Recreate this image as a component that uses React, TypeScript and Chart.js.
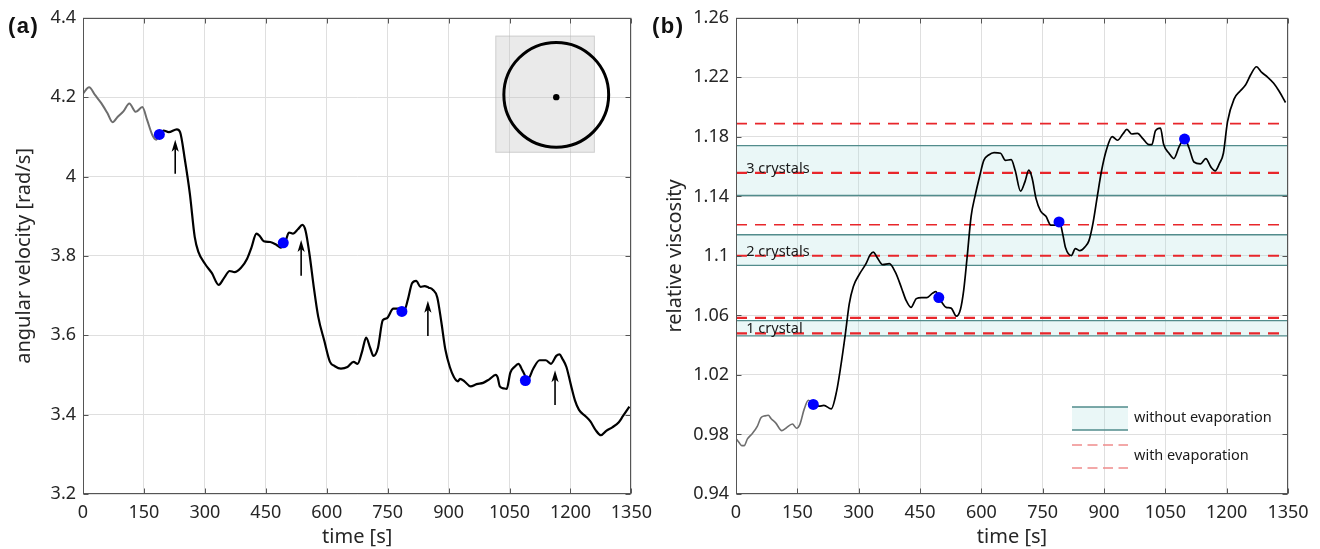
import React, { useEffect, useRef } from "react";
import { Chart, registerables } from "chart.js";

Chart.register(...registerables);

const FONT = "'Noto Sans', 'DejaVu Sans', sans-serif";
const INK = "#262626";
const GRID = "#dfdfdf";
const AXIS = "#555555";

// ---------- shared x axis ----------
const TIME_TICKS = [0, 150, 300, 450, 600, 750, 900, 1050, 1200, 1350];
const TIME_LABELS = ["0", "150", "300", "450", "600", "750", "900", "1050", "1200", "1350"];

// ---------- panel (a) ----------
const A_Y_TICKS = [3.2, 3.4, 3.6, 3.8, 4.0, 4.2, 4.4];
const A_Y_LABELS = ["3.2", "3.4", "3.6", "3.8", "4", "4.2", "4.4"];

const A_EARLY_T = [0, 15, 30, 45, 60, 73, 85, 100, 114, 130, 146, 158, 171, 180, 188];
const A_EARLY_V = [4.209, 4.225, 4.205, 4.185, 4.16, 4.137, 4.15, 4.165, 4.184, 4.163, 4.175, 4.142, 4.104, 4.093, 4.107];

const A_T = [188, 198, 211, 231, 239, 251, 263, 275, 284, 301, 317, 334, 347, 361, 373, 389, 404, 414, 427, 435, 445, 461, 476, 486, 497, 507, 517, 529, 540, 548, 558, 568, 579, 594, 608, 620, 635, 651, 666, 676, 687, 697, 707, 715, 726, 738, 748, 764, 779, 790, 800, 810, 820, 831, 841, 851, 861, 872, 882, 892, 903, 913, 923, 928, 939, 954, 969, 985, 1000, 1016, 1021, 1026, 1036, 1043, 1052, 1062, 1072, 1082, 1095, 1108, 1124, 1139, 1152, 1165, 1173, 1180, 1190, 1201, 1211, 1221, 1237, 1249, 1262, 1275, 1288, 1303, 1319, 1329, 1345];
const A_V = [4.107, 4.116, 4.112, 4.119, 4.112, 4.041, 3.957, 3.848, 3.81, 3.779, 3.757, 3.727, 3.744, 3.762, 3.759, 3.77, 3.793, 3.819, 3.856, 3.85, 3.837, 3.835, 3.828, 3.821, 3.832, 3.859, 3.856, 3.867, 3.878, 3.863, 3.801, 3.722, 3.647, 3.586, 3.533, 3.522, 3.516, 3.52, 3.533, 3.528, 3.559, 3.594, 3.568, 3.548, 3.568, 3.638, 3.643, 3.667, 3.667, 3.661, 3.691, 3.731, 3.737, 3.722, 3.724, 3.72, 3.715, 3.696, 3.634, 3.564, 3.52, 3.495, 3.484, 3.49, 3.484, 3.471, 3.477, 3.48, 3.489, 3.5, 3.493, 3.471, 3.466, 3.465, 3.506, 3.52, 3.528, 3.511, 3.489, 3.515, 3.537, 3.537, 3.528, 3.548, 3.552, 3.541, 3.52, 3.475, 3.436, 3.412, 3.396, 3.383, 3.361, 3.348, 3.359, 3.368, 3.381, 3.396, 3.42];

const A_DOT_T = [188, 493, 785, 1089];
const A_DOT_V = [4.106, 3.833, 3.66, 3.486];

const A_ARROW_T = [227, 537, 849, 1162];
const A_ARROW_FROM = [4.007, 3.75, 3.598, 3.424];
const A_ARROW_TO = [4.093, 3.84, 3.687, 3.512];

// inset (in data units of panel a)
const INSET_T = [1015, 1260];
const INSET_V = [4.06, 4.355];
const INSET_CENTER_T = 1165;
const INSET_CIRCLE_V = 4.206;
const INSET_DOT_V = 4.2;
const INSET_RADIUS_T = 129;

// ---------- panel (b) ----------
const B_Y_TICKS = [0.94, 0.98, 1.02, 1.06, 1.1, 1.14, 1.18, 1.22, 1.26];
const B_Y_LABELS = ["0.94", "0.98", "1.02", "1.06", "1.1", "1.14", "1.18", "1.22", "1.26"];

const B_EARLY_T = [0, 7, 14, 20, 28, 40, 52, 61, 71, 79, 86, 97, 112, 122, 138, 148, 156, 167, 177, 189];
const B_EARLY_V = [0.9772, 0.9748, 0.9725, 0.9725, 0.977, 0.9807, 0.9854, 0.9913, 0.9925, 0.9929, 0.9906, 0.9878, 0.9826, 0.9842, 0.987, 0.9842, 0.9866, 0.9972, 1.003, 1.0002];

const B_T = [189, 203, 215, 233, 246, 256, 267, 277, 287, 302, 318, 328, 336, 344, 359, 375, 390, 405, 416, 428, 441, 454, 467, 480, 489, 496, 505, 514, 526, 539, 549, 557, 565, 575, 585, 596, 606, 618, 631, 647, 659, 673, 683, 696, 707, 716, 724, 734, 745, 758, 770, 781, 791, 799, 806, 820, 830, 841, 853, 863, 873, 884, 894, 906, 920, 933, 946, 956, 968, 982, 995, 1010, 1017, 1026, 1038, 1046, 1059, 1071, 1084, 1097, 1108, 1120, 1136, 1149, 1162, 1172, 1182, 1192, 1202, 1218, 1233, 1246, 1259, 1273, 1285, 1300, 1315, 1328, 1344];
const B_V = [1.0002, 0.999, 0.9995, 0.9972, 1.009, 1.0254, 1.0466, 1.0678, 1.0795, 1.0878, 1.0948, 1.1007, 1.1026, 1.0995, 1.0941, 1.0948, 1.0889, 1.0783, 1.0701, 1.0654, 1.0713, 1.072, 1.072, 1.0748, 1.076, 1.072, 1.0682, 1.0654, 1.0649, 1.0595, 1.0642, 1.0772, 1.0984, 1.1266, 1.1407, 1.1536, 1.1642, 1.1678, 1.1694, 1.169, 1.1642, 1.1647, 1.1572, 1.1435, 1.1501, 1.1576, 1.1525, 1.1383, 1.1301, 1.1266, 1.1207, 1.1207, 1.1233, 1.1148, 1.1054, 1.1002, 1.1049, 1.1035, 1.1059, 1.1101, 1.1219, 1.1407, 1.1572, 1.1713, 1.1802, 1.1777, 1.1819, 1.185, 1.1819, 1.1824, 1.1788, 1.1748, 1.1748, 1.1842, 1.1859, 1.1748, 1.169, 1.1654, 1.1736, 1.1788, 1.1725, 1.1631, 1.1619, 1.1654, 1.1595, 1.1572, 1.1619, 1.169, 1.1901, 1.2054, 1.2108, 1.2148, 1.2219, 1.2271, 1.2235, 1.2202, 1.216, 1.2108, 1.2031];

const B_DOT_T = [189, 496, 790, 1097];
const B_DOT_V = [1.0002, 1.072, 1.1228, 1.1785];

const BAND_LOW = [1.0462, 1.0936, 1.1406];
const BAND_HIGH = [1.0565, 1.1142, 1.1741];
const BAND_NAMES = ["1 crystal", "2 crystals", "3 crystals"];
const BAND_LABEL_V = [1.048, 1.1001, 1.1558];
const BAND_LABEL_T = 25;

const EVAP_LEVELS = [1.048, 1.0583, 1.1001, 1.1209, 1.1558, 1.1889];
const EVAP_BOLD = [true, true, true, false, true, false];

const LEGEND_LABELS = ["without evaporation", "with evaporation"];

// ---------- helpers ----------
const TEAL = "#528c8c";
const BAND_FILL = "rgba(170,225,225,0.25)";
const RED = "#e8262b";

const zip = (t: number[], v: number[]) => t.map((x, i) => ({ x, y: v[i] }));

function axes(yTicks: number[], yLabels: string[], yTitle: string, yTitlePad: number, yWidth: number) {
  const tickFont = { family: FONT, size: 18 };
  return {
    x: {
      type: "linear",
      min: TIME_TICKS[0],
      max: TIME_TICKS[TIME_TICKS.length - 1],
      afterBuildTicks: (s: any) => {
        s.ticks = TIME_TICKS.map((value) => ({ value }));
      },
      afterFit: (s: any) => {
        s.height = 55;
      },
      ticks: {
        autoSkip: false,
        maxRotation: 0,
        padding: 8,
        color: INK,
        font: tickFont,
        callback: (_v: any, i: number) => TIME_LABELS[i],
      },
      grid: { color: GRID, lineWidth: 1, drawTicks: false },
      border: { display: false },
      title: {
        display: true,
        text: "time [s]",
        color: INK,
        font: { family: FONT, size: 20 },
        padding: { top: 0, bottom: 0 },
      },
    },
    y: {
      type: "linear",
      min: yTicks[0],
      max: yTicks[yTicks.length - 1],
      afterBuildTicks: (s: any) => {
        s.ticks = yTicks.map((value) => ({ value }));
      },
      afterFit: (s: any) => {
        s.width = yWidth;
      },
      ticks: {
        autoSkip: false,
        padding: 7,
        color: INK,
        font: tickFont,
        callback: (_v: any, i: number) => yLabels[i],
      },
      grid: { color: GRID, lineWidth: 1, drawTicks: false },
      border: { display: false },
      title: {
        display: true,
        text: yTitle,
        color: INK,
        font: { family: FONT, size: 20 },
        padding: { top: yTitlePad, bottom: 0 },
      },
    },
  };
}

const framePlugin = {
  id: "frame",
  afterDraw(chart: any) {
    const { ctx, chartArea: a, scales } = chart;
    ctx.save();
    ctx.strokeStyle = AXIS;
    ctx.lineWidth = 1;
    const l = Math.round(a.left) + 0.5;
    const t = Math.round(a.top) + 0.5;
    const r = Math.round(a.right) - 0.5;
    const b = Math.round(a.bottom) - 0.5;
    ctx.strokeRect(l, t, r - l, b - t);
    const L = 5;
    ctx.beginPath();
    scales.x.ticks.forEach((tk: any) => {
      const px = Math.round(scales.x.getPixelForValue(tk.value)) + 0.5;
      ctx.moveTo(px, b);
      ctx.lineTo(px, b - L);
      ctx.moveTo(px, t);
      ctx.lineTo(px, t + L);
    });
    scales.y.ticks.forEach((tk: any) => {
      const py = Math.round(scales.y.getPixelForValue(tk.value)) + 0.5;
      ctx.moveTo(l, py);
      ctx.lineTo(l + L, py);
      ctx.moveTo(r, py);
      ctx.lineTo(r - L, py);
    });
    ctx.stroke();
    ctx.restore();
  },
};

const panelAPlugin = {
  id: "panelA",
  beforeDatasetsDraw(chart: any) {
    const { ctx, scales } = chart;
    const x = scales.x;
    const y = scales.y;
    const x0 = x.getPixelForValue(INSET_T[0]);
    const x1 = x.getPixelForValue(INSET_T[1]);
    const y0 = y.getPixelForValue(INSET_V[1]);
    const y1 = y.getPixelForValue(INSET_V[0]);
    ctx.save();
    ctx.fillStyle = "rgba(190,190,190,0.33)";
    ctx.fillRect(x0, y0, x1 - x0, y1 - y0);
    ctx.strokeStyle = "rgba(180,180,180,0.5)";
    ctx.lineWidth = 1;
    ctx.strokeRect(x0 + 0.5, y0 + 0.5, x1 - x0 - 1, y1 - y0 - 1);
    const cx = x.getPixelForValue(INSET_CENTER_T);
    const cy = y.getPixelForValue(INSET_CIRCLE_V);
    const rad = x.getPixelForValue(INSET_CENTER_T + INSET_RADIUS_T) - cx;
    ctx.beginPath();
    ctx.arc(cx, cy, rad, 0, Math.PI * 2);
    ctx.strokeStyle = "#000";
    ctx.lineWidth = 3;
    ctx.stroke();
    ctx.beginPath();
    ctx.arc(cx, y.getPixelForValue(INSET_DOT_V), 3.2, 0, Math.PI * 2);
    ctx.fillStyle = "#000";
    ctx.fill();
    ctx.restore();
  },
  afterDatasetsDraw(chart: any) {
    const { ctx, scales } = chart;
    ctx.save();
    ctx.strokeStyle = "#000";
    ctx.fillStyle = "#000";
    ctx.lineWidth = 1.6;
    A_ARROW_T.forEach((t, i) => {
      const px = scales.x.getPixelForValue(t);
      const pb = scales.y.getPixelForValue(A_ARROW_FROM[i]);
      const pt = scales.y.getPixelForValue(A_ARROW_TO[i]);
      ctx.beginPath();
      ctx.moveTo(px, pb);
      ctx.lineTo(px, pt + 7);
      ctx.stroke();
      ctx.beginPath();
      ctx.moveTo(px, pt);
      ctx.lineTo(px - 3.6, pt + 12);
      ctx.lineTo(px, pt + 9);
      ctx.lineTo(px + 3.6, pt + 12);
      ctx.closePath();
      ctx.fill();
    });
    ctx.restore();
  },
};

const panelBPlugin = {
  id: "panelB",
  afterDatasetsDraw(chart: any) {
    const { ctx, scales, chartArea: a } = chart;
    ctx.save();
    ctx.fillStyle = "#1a1a1a";
    ctx.font = `14.5px ${FONT}`;
    ctx.textBaseline = "alphabetic";
    ctx.textAlign = "left";
    BAND_NAMES.forEach((name, i) => {
      ctx.fillText(name, scales.x.getPixelForValue(BAND_LABEL_T), scales.y.getPixelForValue(BAND_LABEL_V[i]));
    });

    // legend (inside the axes, lower right)
    const bx0 = a.right - 216;
    const bx1 = a.right - 160;
    const by0 = a.bottom - 87;
    const by1 = a.bottom - 64;
    ctx.fillStyle = BAND_FILL;
    ctx.fillRect(bx0, by0, bx1 - bx0, by1 - by0);
    ctx.strokeStyle = TEAL;
    ctx.lineWidth = 1.5;
    ctx.beginPath();
    ctx.moveTo(bx0, by0);
    ctx.lineTo(bx1, by0);
    ctx.moveTo(bx0, by1);
    ctx.lineTo(bx1, by1);
    ctx.stroke();
    ctx.strokeStyle = "#f08c8c";
    ctx.setLineDash([10, 5.5]);
    ctx.beginPath();
    ctx.moveTo(bx0, a.bottom - 49);
    ctx.lineTo(bx1, a.bottom - 49);
    ctx.moveTo(bx0, a.bottom - 26);
    ctx.lineTo(bx1, a.bottom - 26);
    ctx.stroke();
    ctx.setLineDash([]);
    ctx.fillStyle = "#1a1a1a";
    ctx.font = `14.5px ${FONT}`;
    ctx.textBaseline = "middle";
    ctx.fillText(LEGEND_LABELS[0], a.right - 154, a.bottom - 76);
    ctx.fillText(LEGEND_LABELS[1], a.right - 154, a.bottom - 38);
    ctx.restore();
  },
};

function baseOptions(yTicks: number[], yLabels: string[], yTitle: string, yTitlePad: number, yWidth: number, rightPad: number) {
  return {
    responsive: false,
    animation: false,
    devicePixelRatio: 1,
    events: [],
    layout: { padding: { left: 0, right: rightPad, top: 17, bottom: 0 } },
    plugins: { legend: { display: false }, tooltip: { enabled: false } },
    scales: axes(yTicks, yLabels, yTitle, yTitlePad, yWidth),
  };
}

function curve(data: any, color: string, width: number, order: number) {
  return {
    data,
    showLine: true,
    borderColor: color,
    borderWidth: width,
    pointRadius: 0,
    fill: false,
    cubicInterpolationMode: "monotone",
    borderJoinStyle: "round",
    order,
  };
}

function configA(): any {
  return {
    type: "scatter",
    data: {
      datasets: [
        {
          data: zip(A_DOT_T, A_DOT_V),
          pointRadius: 5.5,
          pointBackgroundColor: "#0000ff",
          pointBorderWidth: 0,
          showLine: false,
          order: 0,
        },
        curve(zip(A_T, A_V), "#000", 2.2, 1),
        curve(zip(A_EARLY_T, A_EARLY_V), "#6e6e6e", 2, 2),
      ],
    },
    options: baseOptions(A_Y_TICKS, A_Y_LABELS, "angular velocity [rad/s]", 12.5, 83, 23),
    plugins: [panelAPlugin, framePlugin],
  };
}

function configB(): any {
  const datasets: any[] = [];
  const x0 = TIME_TICKS[0];
  const x1 = TIME_TICKS[TIME_TICKS.length - 1];
  BAND_LOW.forEach((lo, i) => {
    datasets.push({
      data: [
        { x: x0, y: BAND_HIGH[i] },
        { x: x1, y: BAND_HIGH[i] },
      ],
      showLine: true,
      borderColor: TEAL,
      borderWidth: 1.3,
      pointRadius: 0,
      fill: false,
      order: 5,
    });
    datasets.push({
      data: [
        { x: x0, y: lo },
        { x: x1, y: lo },
      ],
      showLine: true,
      borderColor: TEAL,
      borderWidth: 1.3,
      pointRadius: 0,
      fill: "-1",
      backgroundColor: BAND_FILL,
      order: 5,
    });
  });
  EVAP_LEVELS.forEach((lv, i) => {
    datasets.push({
      data: [
        { x: x0, y: lv },
        { x: x1, y: lv },
      ],
      showLine: true,
      borderColor: RED,
      borderWidth: EVAP_BOLD[i] ? 2.2 : 1.6,
      borderDash: [11, 8],
      borderCapStyle: "butt",
      pointRadius: 0,
      fill: false,
      order: 3,
    });
  });
  datasets.push(curve(zip(B_EARLY_T, B_EARLY_V), "#6e6e6e", 1.6, 2));
  datasets.push(curve(zip(B_T, B_V), "#000", 1.7, 1));
  datasets.push({
    data: zip(B_DOT_T, B_DOT_V),
    showLine: false,
    pointRadius: 5.5,
    pointBackgroundColor: "#0000ff",
    pointBorderWidth: 0,
    order: 0,
  });
  return {
    type: "scatter",
    data: { datasets },
    options: baseOptions(B_Y_TICKS, B_Y_LABELS, "relative viscosity", 3.5, 76, 32),
    plugins: [panelBPlugin, framePlugin],
  };
}

const panelLabel: React.CSSProperties = {
  position: "absolute",
  top: 15,
  font: "bold 22px 'Liberation Sans', Arial, sans-serif",
  lineHeight: "22px",
  letterSpacing: "1.5px",
  color: "#111",
  whiteSpace: "nowrap",
};

export default function App() {
  const refA = useRef<HTMLCanvasElement>(null);
  const refB = useRef<HTMLCanvasElement>(null);

  useEffect(() => {
    const a = new Chart(refA.current as HTMLCanvasElement, configA());
    const b = new Chart(refB.current as HTMLCanvasElement, configB());
    return () => {
      a.destroy();
      b.destroy();
    };
  }, []);

  return (
    <div
      style={{
        position: "absolute",
        left: 0,
        top: 0,
        width: 1320,
        height: 549,
        background: "#fff",
        overflow: "hidden",
      }}
    >
      <canvas
        ref={refA}
        width={660}
        height={549}
        style={{ position: "absolute", left: 0, top: 0, width: 660, height: 549 }}
      />
      <canvas
        ref={refB}
        width={660}
        height={549}
        style={{ position: "absolute", left: 660, top: 0, width: 660, height: 549 }}
      />
      <div style={{ ...panelLabel, left: 8 }}>(a)</div>
      <div style={{ ...panelLabel, left: 652 }}>(b)</div>
    </div>
  );
}
